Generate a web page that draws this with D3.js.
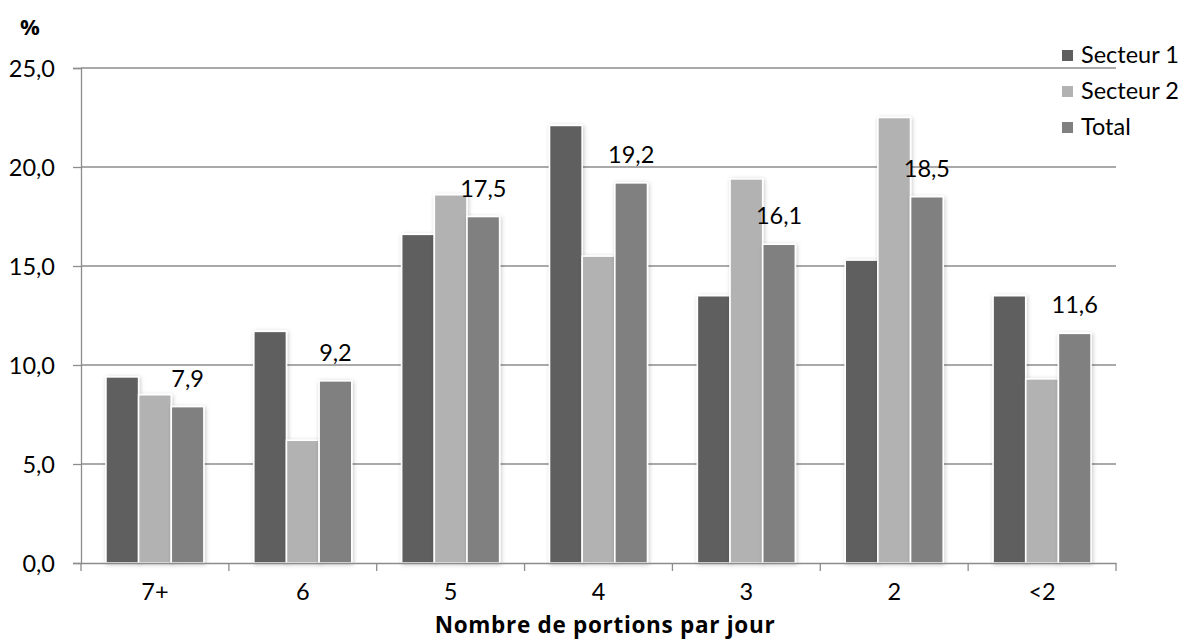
<!DOCTYPE html>
<html><head><meta charset="utf-8">
<script src="https://cdn.jsdelivr.net/npm/d3@7"></script>
<style>
body{margin:0;background:#fff;}
svg{display:block;}
text{font-family:Lato,"Open Sans",sans-serif;fill:#000;}
</style></head>
<body>
<svg id="chart" width="1184" height="643"></svg>
<script>
const categories = ["7+","6","5","4","3","2","<2"];
const seriesNames = ["Secteur 1","Secteur 2","Total"];
const secteur1 = [9.4,11.7,16.6,22.1,13.5,15.3,13.5];
const secteur2 = [8.5,6.2,18.6,15.5,19.4,22.5,9.3];
const total = [7.9,9.2,17.5,19.2,16.1,18.5,11.6];
const yTicks = [0,5,10,15,20,25];
const colors = ["#5f5f5f","#b2b2b2","#808080"];
const seriesValues = [secteur1, secteur2, total];

const svg = d3.select("#chart");
const mLeft = 81, mRight = 1116, mTop = 68, mBottom = 563;

const defs = svg.append("defs");
const f = defs.append("filter").attr("id","sh").attr("x","-20%").attr("y","-5%").attr("width","140%").attr("height","110%");
f.append("feDropShadow").attr("dx",1).attr("dy",1).attr("stdDeviation",2.2).attr("flood-color","#000").attr("flood-opacity",0.22);

const x = d3.scaleBand().domain(categories).range([mLeft,mRight]).padding(0);
const groupW = 98;
const xs = d3.scaleBand().domain(seriesNames)
  .range([(x.bandwidth()-groupW)/2,(x.bandwidth()+groupW)/2]).padding(0);
const y = d3.scaleLinear().domain([0,25]).range([mBottom,mTop]);

// gridlines
svg.append("g").selectAll("line").data(yTicks.filter(d=>d>0)).join("line")
  .attr("x1",mLeft).attr("x2",mRight).attr("y1",d=>y(d)).attr("y2",d=>y(d))
  .attr("stroke","#8c8c8c").attr("stroke-width",1.3);

// y axis
const yAxis = d3.axisLeft(y).tickValues(yTicks).tickSize(8).tickPadding(18)
  .tickFormat(d=>d3.format(".1f")(d).replace(".",","));
const gy = svg.append("g").attr("transform",`translate(${mLeft},0)`).call(yAxis);
gy.select(".domain").attr("stroke","#8c8c8c").attr("stroke-width",1.3);
gy.selectAll(".tick line").attr("stroke","#8c8c8c").attr("stroke-width",1.3);
gy.selectAll(".tick text").style("font-size","23.5px").attr("fill","#000").attr("dy","0.36em");

// bars
const data = categories.map((c,i)=>({c, vals: seriesNames.map((s,j)=>({s, v: seriesValues[j][i], j}))}));
const groups = svg.append("g").selectAll("g").data(data).join("g")
  .attr("transform",d=>`translate(${x(d.c)},0)`);
groups.selectAll("rect").data(d=>d.vals).join("rect")
  .attr("x",d=>xs(d.s)).attr("width",xs.bandwidth())
  .attr("y",d=>y(d.v)).attr("height",d=>y(0)-y(d.v))
  .attr("fill",d=>colors[d.j]).attr("stroke","#fff").attr("stroke-width",1.6)
  .attr("filter","url(#sh)");

// total labels
groups.append("text")
  .attr("x",xs("Total")+xs.bandwidth()/2)
  .attr("y",(d,i)=>y(total[i])-20)
  .attr("text-anchor","middle").style("font-size","23.5px")
  .text((d,i)=>d3.format(".1f")(total[i]).replace(".",","));

// x axis
const xAxis = d3.axisBottom(x).tickSize(0).tickPadding(20);
const gx = svg.append("g").attr("transform",`translate(0,${mBottom})`).call(xAxis);
gx.select(".domain").attr("stroke","#8c8c8c").attr("stroke-width",1.3);
gx.selectAll(".tick text").style("font-size","23.5px").attr("fill","#000");
// boundary ticks
const bounds = categories.map(c=>x(c)).concat([mRight]);
gx.selectAll("line.bt").data(bounds).join("line").attr("class","bt")
  .attr("x1",d=>d).attr("x2",d=>d).attr("y1",0).attr("y2",8)
  .attr("stroke","#8c8c8c").attr("stroke-width",1.3);

// axis titles
svg.append("text").attr("x",605).attr("y",633).attr("text-anchor","middle")
  .style("font-family","'Open Sans',sans-serif").style("letter-spacing","0.7px")
  .style("font-size","22.5px").style("font-weight","bold").text("Nombre de portions par jour");
svg.append("text").attr("x",30).attr("y",35).attr("text-anchor","middle")
  .style("font-family","'Open Sans',sans-serif")
  .style("font-size","22px").style("font-weight","bold").text("%");

// legend
const lg = svg.append("g").selectAll("g").data(seriesNames).join("g")
  .attr("transform",(d,i)=>`translate(1062,${55+i*36})`);
lg.append("rect").attr("x",0).attr("y",-5).attr("width",11).attr("height",11)
  .attr("fill",(d,i)=>colors[i]);
lg.append("text").attr("x",19).attr("y",0).attr("dy","0.36em").style("font-size","23.5px").text(d=>d);
</script>
</body></html>
